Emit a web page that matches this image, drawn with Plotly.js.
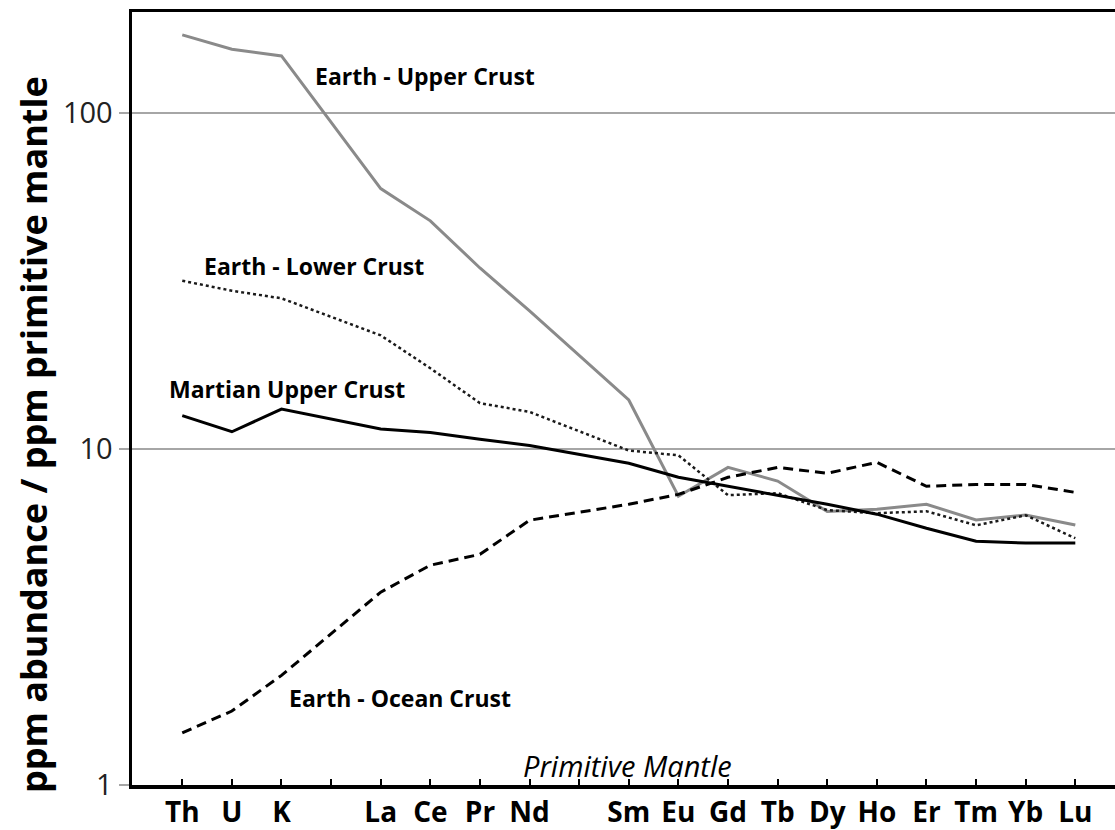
<!DOCTYPE html>
<html>
<head>
<meta charset="utf-8">
<script src="https://cdn.plot.ly/plotly-3.0.1.min.js"></script>
<style>
  html, body { margin: 0; padding: 0; background: #ffffff; }
  #chart { width: 1115px; height: 830px; }
</style>
</head>
<body>
<div id="chart"></div>
<script>
// Element order along the x axis; null marks an empty slot between groups.
const elements = ['Th', 'U', 'K', null, 'La', 'Ce', 'Pr', 'Nd', null, 'Sm',
                  'Eu', 'Gd', 'Tb', 'Dy', 'Ho', 'Er', 'Tm', 'Yb', 'Lu'];

// Abundances normalised to primitive mantle (ppm / ppm).
const earthUpperCrust = [171, 155, 148, null, 59.6, 47.8, 34.6, 25.8, null, 14.0,
                         7.24, 8.82, 8.03, 6.52, 6.62, 6.85, 6.15, 6.36, 5.94];
const earthLowerCrust = [31.7, 29.6, 28.1, null, 21.8, 17.4, 13.7, 12.9, null, 9.9,
                         9.58, 7.29, 7.39, 6.58, 6.44, 6.53, 5.93, 6.35, 5.43];
const martianUpperCrust = [12.57, 11.26, 13.15, null, 11.47, 11.21, 10.69, 10.25, null, 9.07,
                           8.24, 7.75, 7.28, 6.85, 6.40, 5.81, 5.32, 5.25, 5.25];
const earthOceanCrust = [1.43, 1.66, 2.12, null, 3.75, 4.51, 4.86, 6.14, null, 6.85,
                         7.33, 8.24, 8.82, 8.47, 9.13, 7.75, 7.85, 7.85, 7.43];

const yTickValues = [1, 10, 100];
const yTickLabels = ['1', '10', '100'];

const FONT = '"Open Sans", "Noto Sans", sans-serif';
const positions = elements.map((_, i) => i);
const tickLabels = elements.map(e => e === null ? '' : e);

function series(name, values, line) {
  return {
    type: 'scatter',
    mode: 'lines',
    name: name,
    x: positions,
    y: values,
    connectgaps: true,
    line: line,
    hoverinfo: 'name+y'
  };
}

const traces = [
  series('Earth - Upper Crust', earthUpperCrust, {color: '#8a8a8a', width: 3}),
  series('Earth - Lower Crust', earthLowerCrust, {color: '#1a1a1a', width: 2.5, dash: 'dot'}),
  series('Martian Upper Crust', martianUpperCrust, {color: '#000000', width: 3}),
  series('Earth - Ocean Crust', earthOceanCrust, {color: '#000000', width: 3, dash: '10px,6px'})
];

const labelFont = {family: FONT, size: 23, color: '#000000', weight: 700};

const layout = {
  width: 1115,
  height: 830,
  margin: {l: 132, r: 0, t: 12, b: 45},
  paper_bgcolor: '#ffffff',
  plot_bgcolor: '#ffffff',
  showlegend: false,
  xaxis: {
    range: [-1.013, 18.8],
    tickmode: 'array',
    tickvals: positions,
    ticktext: tickLabels,
    ticks: 'inside',
    ticklen: 6,
    tickwidth: 2,
    tickcolor: '#000000',
    showline: true,
    linecolor: '#000000',
    linewidth: 3.5,
    mirror: true,
    showgrid: false,
    zeroline: false,
    ticklabelstandoff: 0,
    tickfont: {family: FONT, size: 28, color: '#000000', weight: 700},
    fixedrange: true
  },
  xaxis2: {
    overlaying: 'x',
    anchor: 'y',
    side: 'bottom',
    range: [-1.013, 18.8],
    tickmode: 'array',
    tickvals: [4, 9, 14],
    showticklabels: false,
    ticks: 'inside',
    ticklen: 10,
    tickwidth: 2,
    tickcolor: '#000000',
    showline: false,
    showgrid: false,
    zeroline: false,
    fixedrange: true
  },
  yaxis: {
    type: 'log',
    range: [0, Math.log10(200)],
    tickmode: 'array',
    tickvals: yTickValues,
    ticktext: yTickLabels,
    ticks: 'outside',
    ticklen: 10,
    tickwidth: 1.5,
    tickcolor: '#a6a6a6',
    showline: true,
    linecolor: '#000000',
    linewidth: 3.5,
    mirror: false,
    showgrid: true,
    gridcolor: '#a6a6a6',
    gridwidth: 1.5,
    zeroline: false,
    tickfont: {family: FONT, size: 29, color: '#222222'},
    fixedrange: true
  },
  annotations: [
    {text: 'Earth - Upper Crust', x: 4.9, y: 2.111, xref: 'x', yref: 'y',
     showarrow: false, xanchor: 'center', yanchor: 'middle', font: labelFont},
    {text: 'Earth - Lower Crust', x: 2.66, y: 1.546, xref: 'x', yref: 'y',
     showarrow: false, xanchor: 'center', yanchor: 'middle', font: labelFont},
    {text: 'Martian Upper Crust', x: 2.12, y: 1.180, xref: 'x', yref: 'y',
     showarrow: false, xanchor: 'center', yanchor: 'middle', font: labelFont},
    {text: 'Earth - Ocean Crust', x: 4.39, y: 0.259, xref: 'x', yref: 'y',
     showarrow: false, xanchor: 'center', yanchor: 'middle', font: labelFont},
    {text: 'Primitive Mantle', x: 8.97, y: 0, xref: 'x', yref: 'y',
     showarrow: false, xanchor: 'center', yanchor: 'bottom', yshift: -2,
     font: {family: FONT, size: 29, color: '#000000', style: 'italic'}},
    {text: 'ppm abundance / ppm primitive mantle', x: -0.0995, y: 0.453,
     xref: 'paper', yref: 'paper', textangle: -90, showarrow: false,
     xanchor: 'center', yanchor: 'middle',
     font: {family: FONT, size: 36, color: '#000000', weight: 700}}
  ]
};

Plotly.newPlot('chart', traces, layout, {displayModeBar: false, staticPlot: true});
</script>
</body>
</html>
